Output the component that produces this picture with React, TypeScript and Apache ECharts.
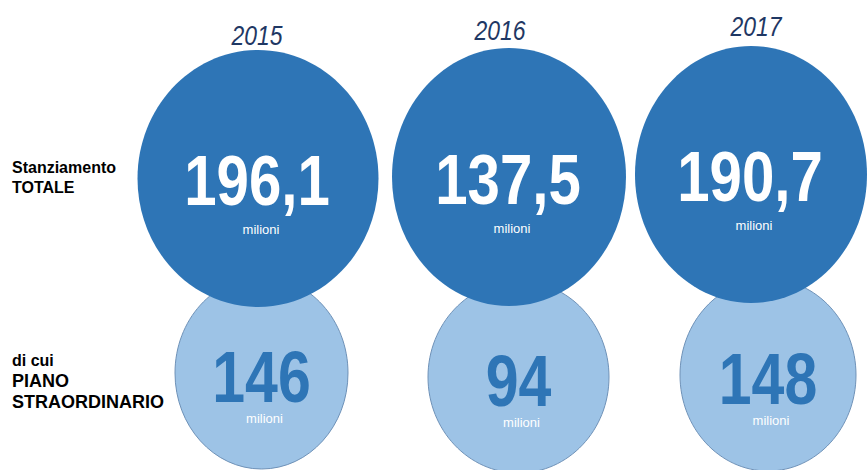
import React, { useEffect, useRef } from 'react';
import * as echarts from 'echarts';

// ---- data ----
const years = ['2015', '2016', '2017'];
const rowLabels = ['Stanziamento TOTALE', 'di cui PIANO STRAORDINARIO'];
const totale = [196.1, 137.5, 190.7];
const piano = [146, 94, 148];
const unitLabel = 'milioni';

// ---- layout / style (not data) ----
const DARK = '#2E75B6';
const LIGHT = '#9DC3E6';
const LIGHT_STROKE = '#6F92B8';
const NAVY = '#1F3864';
const FONT = '"Liberation Sans", Arial, sans-serif';
const darkRadii = [[120.5, 128.5], [117, 129], [116, 128.5]];
const darkOffsets = [[0, 1.5], [1, 0], [-7, -2.5]];
const yearOffsets = [[-1, -142], [-8, -147], [-2, -151]];
const lightRadii = [[86.5, 96], [90.5, 96], [88, 96]];
const lightOffsets = [[3.5, -8], [10.5, -4], [10, -6]];

const fmtTot = (v: number) => v.toFixed(1).replace('.', ',');
const fmtPiano = (v: number) => String(v);

export default function App() {
  const ref = useRef<HTMLDivElement>(null);
  useEffect(() => {
    if (!ref.current) return;
    const chart = echarts.init(ref.current, null, { renderer: 'svg' });

    const makeRender = (kind: 'dark' | 'light') => (params: any, api: any) => {
      const i = params.dataIndex;
      const xi = api.value(0);
      const c = api.coord([xi, api.value(1)]);
      const off = kind === 'dark' ? darkOffsets[i] : lightOffsets[i];
      const rad = kind === 'dark' ? darkRadii[i] : lightRadii[i];
      const cx = c[0] + off[0];
      const cy = c[1] + off[1];
      const v = api.value(2);
      if (kind === 'dark') {
        return {
          type: 'group',
          children: [
            { type: 'ellipse', shape: { cx, cy, rx: rad[0], ry: rad[1] }, style: { fill: DARK } },
            {
              type: 'text', x: cx - 1, y: cy + 2, scaleX: 0.82,
              style: { text: fmtTot(v), fill: '#ffffff', fontSize: 71, fontWeight: 'bold', fontFamily: FONT, align: 'center', verticalAlign: 'middle' },
            },
            {
              type: 'text', x: cx + 3, y: cy + 51,
              style: { text: unitLabel, fill: '#ffffff', fontSize: 13, fontFamily: FONT, align: 'center', verticalAlign: 'middle' },
            },
            {
              type: 'text', x: c[0] + yearOffsets[i][0], y: c[1] + yearOffsets[i][1], scaleX: 0.82,
              style: { text: years[xi], fill: NAVY, fontSize: 28, fontStyle: 'italic', fontFamily: FONT, align: 'center', verticalAlign: 'middle' },
            },
          ],
        };
      }
      return {
        type: 'group',
        children: [
          { type: 'ellipse', shape: { cx, cy, rx: rad[0], ry: rad[1] }, style: { fill: LIGHT, stroke: LIGHT_STROKE, lineWidth: 1 } },
          {
            type: 'text', x: cx, y: cy + 4, scaleX: 0.82,
            style: { text: fmtPiano(v), fill: DARK, fontSize: 72, fontWeight: 'bold', fontFamily: FONT, align: 'center', verticalAlign: 'middle' },
          },
          {
            type: 'text', x: cx + 3, y: cy + 45,
            style: { text: unitLabel, fill: '#ffffff', fontSize: 13, fontFamily: FONT, align: 'center', verticalAlign: 'middle' },
          },
        ],
      };
    };

    chart.setOption({
      animation: false,
      backgroundColor: '#ffffff',
      grid: { left: 133, top: 75, width: 750, height: 408, outerBoundsMode: 'none', containLabel: false },
      xAxis: {
        type: 'category',
        position: 'top',
        data: years,
        axisLine: { show: false },
        axisTick: { show: false },
        splitLine: { show: false },
        axisLabel: { show: false },
      },
      yAxis: {
        type: 'category',
        inverse: true,
        data: rowLabels,
        axisLine: { show: false },
        axisTick: { show: false },
        splitLine: { show: false },
        axisLabel: {
          align: 'left',
          margin: 121,
          formatter: (val: string, idx: number) => {
            if (idx === 0) {
              const parts = val.split(' ');
              return `{a|${parts[0]}}\n{a|${parts[1]}}`;
            }
            const words = val.split(' ');
            return `{c|${words[0]} ${words[1]}}\n{b|${words[2]}}\n{b|${words[3]}}`;
          },
          rich: {
            a: { fontSize: 16, fontWeight: 'bold', color: '#000', fontFamily: FONT, lineHeight: 20 },
            b: { fontSize: 18, fontWeight: 'bold', color: '#000', fontFamily: FONT, lineHeight: 21 },
            c: { fontSize: 16, fontWeight: 'bold', color: '#000', fontFamily: FONT, lineHeight: 21 },
          },
        },
      },
      series: [
        {
          type: 'custom',
          name: rowLabels[1],
          renderItem: makeRender('light'),
          data: piano.map((v, i) => [i, 1, v]),
          encode: { x: 0, y: 1 },
          z: 1,
        },
        {
          type: 'custom',
          name: rowLabels[0],
          renderItem: makeRender('dark'),
          data: totale.map((v, i) => [i, 0, v]),
          encode: { x: 0, y: 1 },
          z: 2,
        },
      ],
    });
    return () => chart.dispose();
  }, []);
  return <div ref={ref} style={{ position: 'absolute', left: 0, top: 0, width: 867, height: 470 }} />;
}
